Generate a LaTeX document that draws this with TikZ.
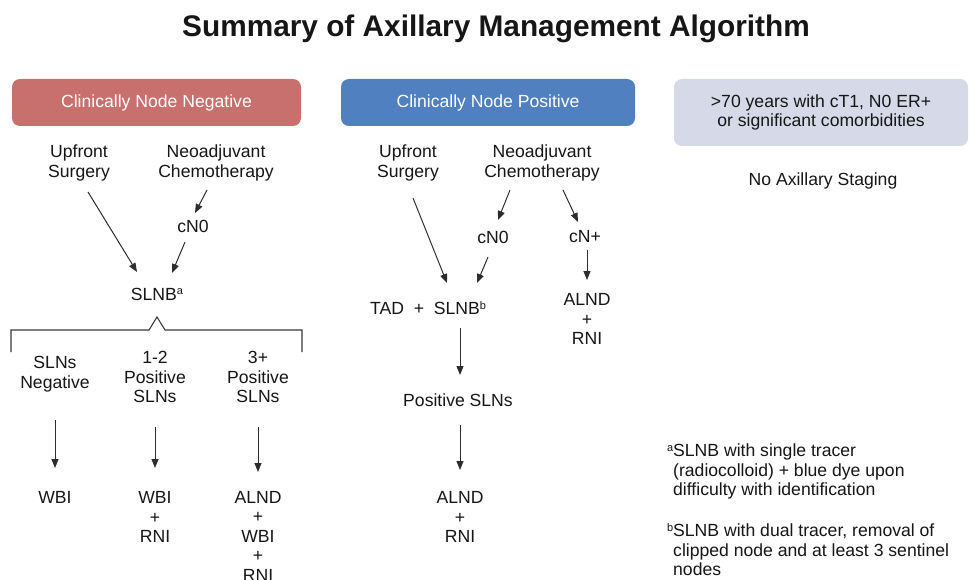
\documentclass[tikz,border=0pt]{standalone}
\usepackage{fontspec}
\setmainfont{Liberation Sans}
\usetikzlibrary{arrows.meta,calc}
\definecolor{negred}{RGB}{200,112,110}
\definecolor{posblue}{RGB}{80,128,192}
\definecolor{graybox}{RGB}{214,218,232}
\definecolor{ink}{RGB}{22,22,22}
\newcommand{\mysup}[1]{\raisebox{0.62ex}{\fontsize{11}{12}\selectfont #1}}
\begin{document}
\begin{tikzpicture}[x=1pt,y=-1pt,
  every node/.style={font=\fontsize{17.6}{19.5}\selectfont, text=ink, inner sep=0pt, align=center},
  arr/.style={draw=ink!90, line width=1pt, -{Triangle[length=9pt,width=7pt]}},
  hdr/.style={rounded corners=8pt, minimum height=47pt, text=white},
  fnote/.style={anchor=north west, align=left}]
\fill[white] (0,0) rectangle (969,580);
\useasboundingbox (0,0) rectangle (969,580);

\node[font=\fontsize{29.8}{34}\selectfont\bfseries] (title) at (496,29) {Summary of Axillary Management Algorithm};

% headers
\node[hdr, fill=negred, minimum width=289pt] (hneg) at (156.5,102.5) {Clinically Node Negative};
\node[hdr, fill=posblue, minimum width=294pt] (hpos) at (488,102.5) {Clinically Node Positive};
\node[hdr, fill=graybox, text=ink, minimum width=294pt, minimum height=67pt] (hold) at (821,112.5) {>70 years with cT1, N0 ER+\\or significant comorbidities};

% left column
\node (up1) at (79,163) {Upfront\\Surgery};
\node (neo1) at (216,163) {Neoadjuvant\\Chemotherapy};
\node (cn01) at (193,226) {cN0};
\node (slnba) at (157,294) {SLNB\mysup{a}};
\draw[arr] ($(neo1)+(-9,27)$) -- ($(cn01)+(2,-13)$);
\draw[arr] ($(up1)+(9,29)$) -- ($(slnba)+(-20,-22)$);
\draw[arr] ($(cn01)+(-8,16)$) -- ($(slnba)+(15,-21)$);

\draw[draw=ink!85, line width=1.1pt] (11,352) -- (11,330) -- (149,330) -- (157,317) -- (165,330) -- (302,330) -- (302,352);

\node (neg) at (55,374) {SLNs\\Negative};
\node (p12) at (155,377) {1-2\\Positive\\SLNs};
\node (p3) at (258,377) {3+\\Positive\\SLNs};
\node (res1) at (55,497) {WBI};
\node (res2) at (155,517) {WBI\\+\\RNI};
\node (res3) at (258,536) {ALND\\+\\WBI\\+\\RNI};
\draw[arr] ($(neg)+(0,46)$) -- ($(res1)+(0,-29)$);
\draw[arr] ($(p12)+(0,50)$) -- ($(res2)+(0,-49)$);
\draw[arr] ($(p3)+(0,50)$) -- ($(res3)+(0,-64)$);

% middle column
\node (up2) at (408,163) {Upfront\\Surgery};
\node (neo2) at (542,163) {Neoadjuvant\\Chemotherapy};
\node (cn02) at (493,237) {cN0};
\node (cnp) at (585,237) {cN+};
\node (tad) at (428,308) {TAD\ \ +\ \ SLNB\mysup{b}};
\node (alnd2) at (587,319) {ALND\\+\\RNI};
\node (pos) at (458,400) {Positive SLNs};
\node (res4) at (460,517) {ALND\\+\\RNI};
\draw[arr] ($(up2)+(5,35)$) -- ($(tad)+(19,-25)$);
\draw[arr] ($(neo2)+(-32,27)$) -- ($(cn02)+(5,-17)$);
\draw[arr] ($(neo2)+(21,27)$) -- ($(cnp)+(-7,-15)$);
\draw[arr] ($(cn02)+(-5,20)$) -- ($(tad)+(49,-25)$);
\draw[arr] ($(cnp)+(2,13)$) -- ($(alnd2)+(0,-39)$);
\draw[arr] ($(tad)+(32,20)$) -- ($(pos)+(2,-25)$);
\draw[arr] ($(pos)+(2,25)$) -- ($(res4)+(0,-47)$);

% right column
\node (nostage) at (823,181) {No Axillary Staging};
\node[fnote] (fna) at (673,444) {\llap{\mysup{a}}SLNB with single tracer\\(radiocolloid) + blue dye upon\\difficulty with identification};
\node[fnote] (fnb) at (673,523) {\llap{\mysup{b}}SLNB with dual tracer, removal of\\clipped node and at least 3 sentinel\\nodes};
\end{tikzpicture}
\end{document}
